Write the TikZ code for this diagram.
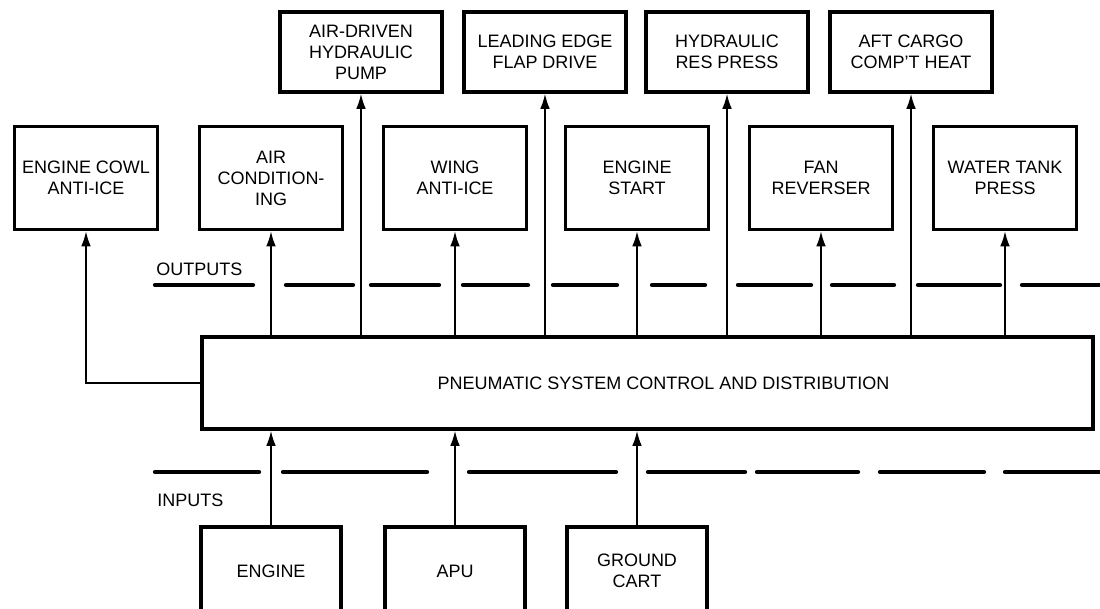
\documentclass[tikz,border=0pt]{standalone}
\usepackage{fontspec}
\setmainfont{Liberation Sans}
\usetikzlibrary{arrows.meta}
\begin{document}
\begin{tikzpicture}[x=0.25mm,y=-0.25mm,
  font=\fontsize{12.8}{15}\selectfont,
  box/.style={draw,line width=2.2pt,align=center,inner sep=1pt},
  outbox/.style={box,minimum width=35.75mm,minimum height=25.75mm},
  topbox/.style={box,minimum width=40.5mm,minimum height=20mm},
  srcbox/.style={box,minimum width=35mm,minimum height=22mm},
  flow/.style={line width=1.4pt,-{Latex[length=3.8mm,width=2.4mm]}},
  divider/.style={line width=3pt,line cap=round}]
\clip (0,0) rectangle (1100,608);

\node[topbox] (pump) at (361,52) {AIR-DRIVEN\\HYDRAULIC\\PUMP};
\node[topbox] (flap) at (545,52) {LEADING EDGE\\FLAP DRIVE};
\node[topbox] (hydres) at (727,52) {HYDRAULIC\\RES PRESS};
\node[topbox] (aft) at (911,52) {AFT CARGO\\COMP'T HEAT};

\node[outbox] (cowl) at (86,178) {ENGINE COWL\\ANTI-ICE};
\node[outbox] (aircond) at (271,178) {AIR\\CONDITION-\\ING};
\node[outbox] (wing) at (455,178) {WING\\ANTI-ICE};
\node[outbox] (start) at (637,178) {ENGINE\\START};
\node[outbox] (fan) at (821,178) {FAN\\REVERSER};
\node[outbox] (water) at (1005,178) {WATER TANK\\PRESS};

\node[anchor=west,inner sep=0] (outlbl) at (156,269) {OUTPUTS};
\foreach \a/\b in {155/253,286/353,371/439,463/528,553/617,652/705,738/811,832/894,918/1000,1022/1100}
  \draw[divider] (\a,285) -- (\b,285);

\node[box,minimum width=222.75mm,minimum height=23mm] (main) at (647.5,383)
  {\hspace*{8mm}PNEUMATIC SYSTEM CONTROL AND DISTRIBUTION};

\foreach \a/\b in {155/259,283/427,469/616,648/745,757/858,880/984,1005/1100}
  \draw[divider] (\a,472) -- (\b,472);
\node[anchor=west,inner sep=0] (inlbl) at (157,500) {INPUTS};

\node[srcbox] (engine) at (271,571) {ENGINE};
\node[srcbox] (apu) at (455,571) {APU};
\node[srcbox] (cart) at (637,571) {GROUND\\CART};

\draw[flow] (main.west) -| (cowl);
\foreach \n in {aircond,pump,wing,flap,start,hydres,fan,aft,water}
  \draw[flow] (main.north -| \n) -- (\n);
\foreach \n in {engine,apu,cart}
  \draw[flow] (\n) -- (main.south -| \n);
\end{tikzpicture}
\end{document}
